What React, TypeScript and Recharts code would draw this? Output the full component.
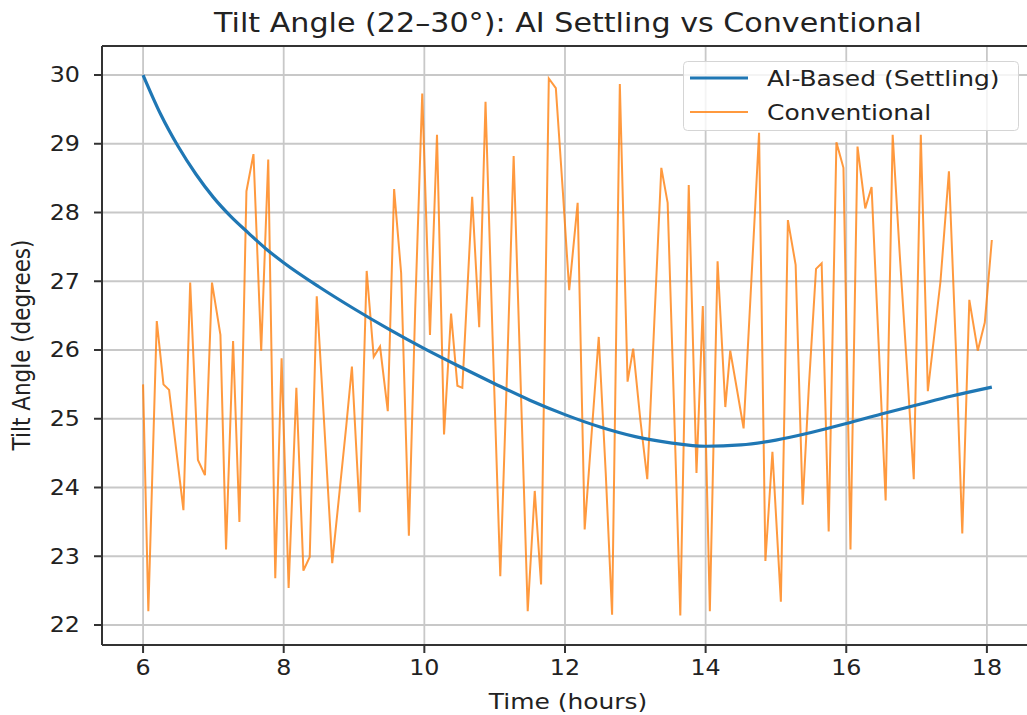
import React from 'react';
import {
  LineChart, Line, XAxis, YAxis, CartesianGrid, Legend, ReferenceLine,
} from 'recharts';

// time (hours) and tilt angle (degrees)
const aiTime = [
  6.0, 6.25, 6.5, 6.75, 7.0, 7.25, 7.5, 7.75, 8.0, 8.5, 9.0, 9.5, 10.0, 10.5,
  11.0, 11.5, 12.0, 12.5, 13.0, 13.5, 14.0, 14.5, 15.0, 15.5, 16.0, 16.5, 17.0,
  17.5, 18.07,
];
const aiAngle = [
  30.0, 29.43, 28.96, 28.56, 28.22, 27.94, 27.7, 27.47, 27.27, 26.92, 26.6,
  26.3, 26.02, 25.76, 25.51, 25.27, 25.06, 24.88, 24.74, 24.65, 24.6, 24.62,
  24.69, 24.8, 24.93, 25.07, 25.2, 25.33, 25.46,
];

const convTime = [
  6.0, 6.075, 6.195, 6.29, 6.37, 6.574, 6.67, 6.78, 6.88, 6.98, 7.1, 7.18, 7.28,
  7.37, 7.47, 7.57, 7.68, 7.78, 7.88, 7.97, 8.07, 8.18, 8.28, 8.37, 8.47, 8.58,
  8.69, 8.79, 8.89, 8.97, 9.08, 9.18, 9.28, 9.37, 9.48, 9.57, 9.67, 9.78, 9.87,
  9.97, 10.08, 10.18, 10.28, 10.38, 10.47, 10.54, 10.68, 10.78, 10.87, 10.97,
  11.08, 11.18, 11.27, 11.37, 11.47, 11.57, 11.66, 11.77, 11.87, 11.97, 12.06,
  12.18, 12.28, 12.38, 12.48, 12.58, 12.67, 12.78, 12.89, 12.97, 13.07, 13.17,
  13.27, 13.37, 13.46, 13.55, 13.64, 13.76, 13.87, 13.96, 14.06, 14.17, 14.28,
  14.35, 14.45, 14.54, 14.65, 14.76, 14.85, 14.95, 15.07, 15.17, 15.28, 15.38,
  15.47, 15.57, 15.65, 15.75, 15.86, 15.96, 16.06, 16.16, 16.27, 16.36, 16.46,
  16.56, 16.66, 16.76, 16.86, 16.96, 17.06, 17.16, 17.25, 17.34, 17.46, 17.56,
  17.65, 17.75, 17.87, 17.97, 18.07,
];
const convAngle = [
  25.5, 22.2, 26.42, 25.5, 25.42, 23.67, 26.98, 24.4, 24.18, 26.98, 26.22, 23.1,
  26.13, 23.5, 28.31, 28.85, 25.99, 28.77, 22.68, 25.88, 22.54, 25.45, 22.79,
  22.99, 26.78, 24.85, 22.9, 23.9, 24.9, 25.76, 23.64, 27.15, 25.9, 26.05,
  25.11, 28.34, 27.12, 23.3, 26.6, 29.73, 26.22, 29.13, 24.77, 26.53, 25.48,
  25.45, 28.23, 26.33, 29.61, 26.2, 22.71, 25.8, 28.82, 25.5, 22.2, 23.95,
  22.59, 29.95, 29.81, 28.3, 26.87, 28.14, 23.39, 24.8, 26.19, 24.2, 22.15,
  29.87, 25.54, 26.02, 25.0, 24.12, 26.4, 28.65, 28.14, 25.2, 22.14, 28.4,
  24.21, 26.64, 22.2, 27.29, 25.17, 25.99, 25.4, 24.86, 27.0, 29.16, 22.93,
  24.52, 22.34, 27.89, 27.24, 23.75, 25.5, 27.18, 27.26, 23.36, 29.02, 28.65,
  23.1, 28.96, 28.06, 28.37, 26.1, 23.81, 29.13, 27.4, 25.8, 24.12, 29.13,
  25.4, 26.2, 27.0, 28.6, 26.0, 23.33, 26.73, 25.99, 26.4, 27.6,
];

const xTicks = [6, 8, 10, 12, 14, 16, 18];
const yTicks = [22, 23, 24, 25, 26, 27, 28, 29, 30];

const aiData = aiTime.map((t, i) => ({ t, v: aiAngle[i] }));
const convData = convTime.map((t, i) => ({ t, v: convAngle[i] }));

const FONT = 'DejaVu Sans, sans-serif';
const SX = 1.16; // the reference is stretched a little sideways

const stretch = (x: number, y: number) =>
  `translate(${x} ${y}) scale(${SX} 1) translate(${-x} ${-y})`;

const YTick = ({ x, y, payload }: any) => (
  <text x={x} y={y} textAnchor="end" dominantBaseline="central"
    fontSize={20.5} fontFamily={FONT} fill="#222" transform={stretch(x, y)}>
    {payload.value}
  </text>
);

const XTick = ({ x, y, payload }: any) => (
  <text x={x} y={y} dy="0.73em" textAnchor="middle"
    fontSize={20.5} fontFamily={FONT} fill="#222" transform={stretch(x, y)}>
    {payload.value}
  </text>
);

const renderLegend = () => (
  <svg width={336} height={70} style={{ display: 'block' }}>
    <rect x={0.5} y={0.5} width={335} height={69} rx={4}
      fill="#fff" fillOpacity={0.8} stroke="#d5d5d5" />
    <line x1={7} x2={65} y1={17} y2={17} stroke="#1f77b4" strokeWidth={3.2} />
    <text x={84} y={17} dominantBaseline="central" fontSize={21.5}
      fontFamily={FONT} fill="#222" transform={stretch(84, 17)}>
      AI-Based (Settling)
    </text>
    <line x1={7} x2={65} y1={51} y2={51} stroke="#ff7f0e" strokeWidth={2} strokeOpacity={0.8} />
    <text x={84} y={51} dominantBaseline="central" fontSize={21.5}
      fontFamily={FONT} fill="#222" transform={stretch(84, 51)}>
      Conventional
    </text>
  </svg>
);

export default function App() {
  return (
    <div style={{
      position: 'absolute', left: 0, top: 0, width: 1027, height: 715,
      overflow: 'hidden', background: '#fff',
    }}>
      <LineChart width={1035} height={715} margin={{ top: 46, right: 0, bottom: 0, left: 0 }}>
        <CartesianGrid stroke="#c8c8c8" strokeWidth={1.8} />
        <XAxis
          type="number"
          dataKey="t"
          domain={[5.416, 18.684]}
          ticks={xTicks}
          allowDataOverflow
          height={70}
          tickSize={8}
          tickMargin={7}
          tick={<XTick />}
          axisLine={{ stroke: '#333', strokeWidth: 2 }}
          tickLine={{ stroke: '#333', strokeWidth: 2 }}
          label={{
            content: () => (
              <text x={568} y={709} textAnchor="middle" fontSize={21.5}
                fontFamily={FONT} fill="#222" transform={stretch(568, 709)}>
                Time (hours)
              </text>
            ),
          }}
        />
        <YAxis
          type="number"
          domain={[21.709, 30.422]}
          ticks={yTicks}
          allowDataOverflow
          width={102}
          tickSize={8}
          tickMargin={14}
          tick={<YTick />}
          axisLine={{ stroke: '#333', strokeWidth: 2 }}
          tickLine={{ stroke: '#333', strokeWidth: 2 }}
          label={{
            content: () => (
              <text x={0} y={0} textAnchor="middle" dominantBaseline="central"
                fontSize={21.5} fontFamily={FONT} fill="#222"
                transform={`translate(21 345) scale(${SX} 1) rotate(-90)`}>
                Tilt Angle (degrees)
              </text>
            ),
          }}
        />
        <ReferenceLine y={30.422} stroke="#333" strokeWidth={2} />
        <Line
          data={convData}
          dataKey="v"
          type="linear"
          stroke="#ff7f0e"
          strokeOpacity={0.8}
          strokeWidth={2}
          dot={false}
          isAnimationActive={false}
        />
        <Line
          data={aiData}
          dataKey="v"
          type="monotone"
          stroke="#1f77b4"
          strokeWidth={3.2}
          dot={false}
          isAnimationActive={false}
        />
        <Legend
          layout="vertical"
          align="center"
          verticalAlign="middle"
          content={renderLegend}
          wrapperStyle={{ left: 683, top: 61, width: 336, height: 70 }}
        />
        <text x={568} y={32} textAnchor="middle" fontSize={26}
          fontFamily={FONT} fill="#222" transform={stretch(568, 32)}>
          Tilt Angle (22–30°): AI Settling vs Conventional
        </text>
      </LineChart>
    </div>
  );
}
